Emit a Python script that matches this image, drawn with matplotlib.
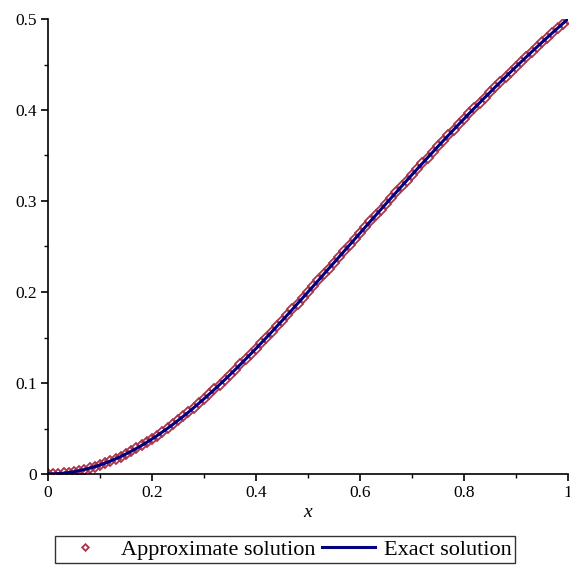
import numpy as np
import matplotlib
matplotlib.use("Agg")
import matplotlib.pyplot as plt
from matplotlib.ticker import MultipleLocator

# data (step 0.01 in x)
x_vals = np.round(np.arange(0, 1.0001, 0.01), 2)
y_vals = [0.0, 0.0001, 0.0004, 0.0009, 0.0016, 0.0025, 0.0036, 0.0049, 0.0064, 0.0080,
          0.0099, 0.0120, 0.0142, 0.0166, 0.0192, 0.0220, 0.0250, 0.0281, 0.0314, 0.0348,
          0.0385, 0.0422, 0.0462, 0.0502, 0.0545, 0.0588, 0.0633, 0.0679, 0.0727, 0.0776,
          0.0826, 0.0877, 0.0929, 0.0982, 0.1036, 0.1091, 0.1147, 0.1204, 0.1262, 0.1320,
          0.1379, 0.1439, 0.1499, 0.1560, 0.1622, 0.1684, 0.1746, 0.1809, 0.1873, 0.1936,
          0.2000, 0.2064, 0.2128, 0.2193, 0.2258, 0.2322, 0.2387, 0.2452, 0.2517, 0.2582,
          0.2647, 0.2712, 0.2777, 0.2841, 0.2906, 0.2970, 0.3034, 0.3098, 0.3162, 0.3225,
          0.3289, 0.3351, 0.3414, 0.3476, 0.3538, 0.3600, 0.3661, 0.3722, 0.3783, 0.3843,
          0.3902, 0.3962, 0.4021, 0.4079, 0.4137, 0.4194, 0.4252, 0.4308, 0.4364, 0.4420,
          0.4475, 0.4530, 0.4584, 0.4638, 0.4691, 0.4744, 0.4796, 0.4848, 0.4899, 0.4950,
          0.5000]
labels = ["Approximate solution", "Exact solution"]

plt.rcParams['font.family'] = ['Liberation Serif', 'DejaVu Serif']

fig = plt.figure(figsize=(5.7, 5.65), dpi=100)
ax = fig.add_axes([48/570, 91/565, 520/570, 455/565])

# approximate solution: hollow diamonds, dense enough to merge into a band
ax.plot(x_vals, y_vals, linestyle="none", marker="D", markersize=5.6,
        markerfacecolor="none", markeredgecolor="#a8334a", markeredgewidth=1.3,
        label=labels[0])
ax.plot(x_vals, y_vals, color="#000080", linewidth=2.2, label=labels[1])

ax.set_xlim(0, 1)
ax.set_ylim(0, 0.5)
ax.set_xticks([0, 0.2, 0.4, 0.6, 0.8, 1.0])
ax.set_xticklabels(["0", "0.2", "0.4", "0.6", "0.8", "1"])
ax.set_yticks([0, 0.1, 0.2, 0.3, 0.4, 0.5])
ax.set_yticklabels(["0", "0.1", "0.2", "0.3", "0.4", "0.5"])
ax.xaxis.set_minor_locator(MultipleLocator(0.1))
ax.yaxis.set_minor_locator(MultipleLocator(0.05))

for s in ["top", "right"]:
    ax.spines[s].set_visible(False)
for s in ["left", "bottom"]:
    ax.spines[s].set_linewidth(1.2)
ax.tick_params(which="major", direction="out", length=5, width=1.2, labelsize=12.5, pad=3)
ax.tick_params(which="minor", direction="out", length=3, width=1.0)
ax.set_xlabel("x", style="italic", fontsize=14, labelpad=2)

leg = fig.legend(loc="lower left", bbox_to_anchor=(55/570, 2/565), ncol=2,
                 fontsize=16, frameon=True, fancybox=False, edgecolor="black",
                 handlelength=2.4, handletextpad=0.4, columnspacing=0.3,
                 borderpad=0.15, borderaxespad=0, markerscale=0.6)
leg.get_frame().set_linewidth(1.0)

fig.savefig("out.png", dpi=100)
